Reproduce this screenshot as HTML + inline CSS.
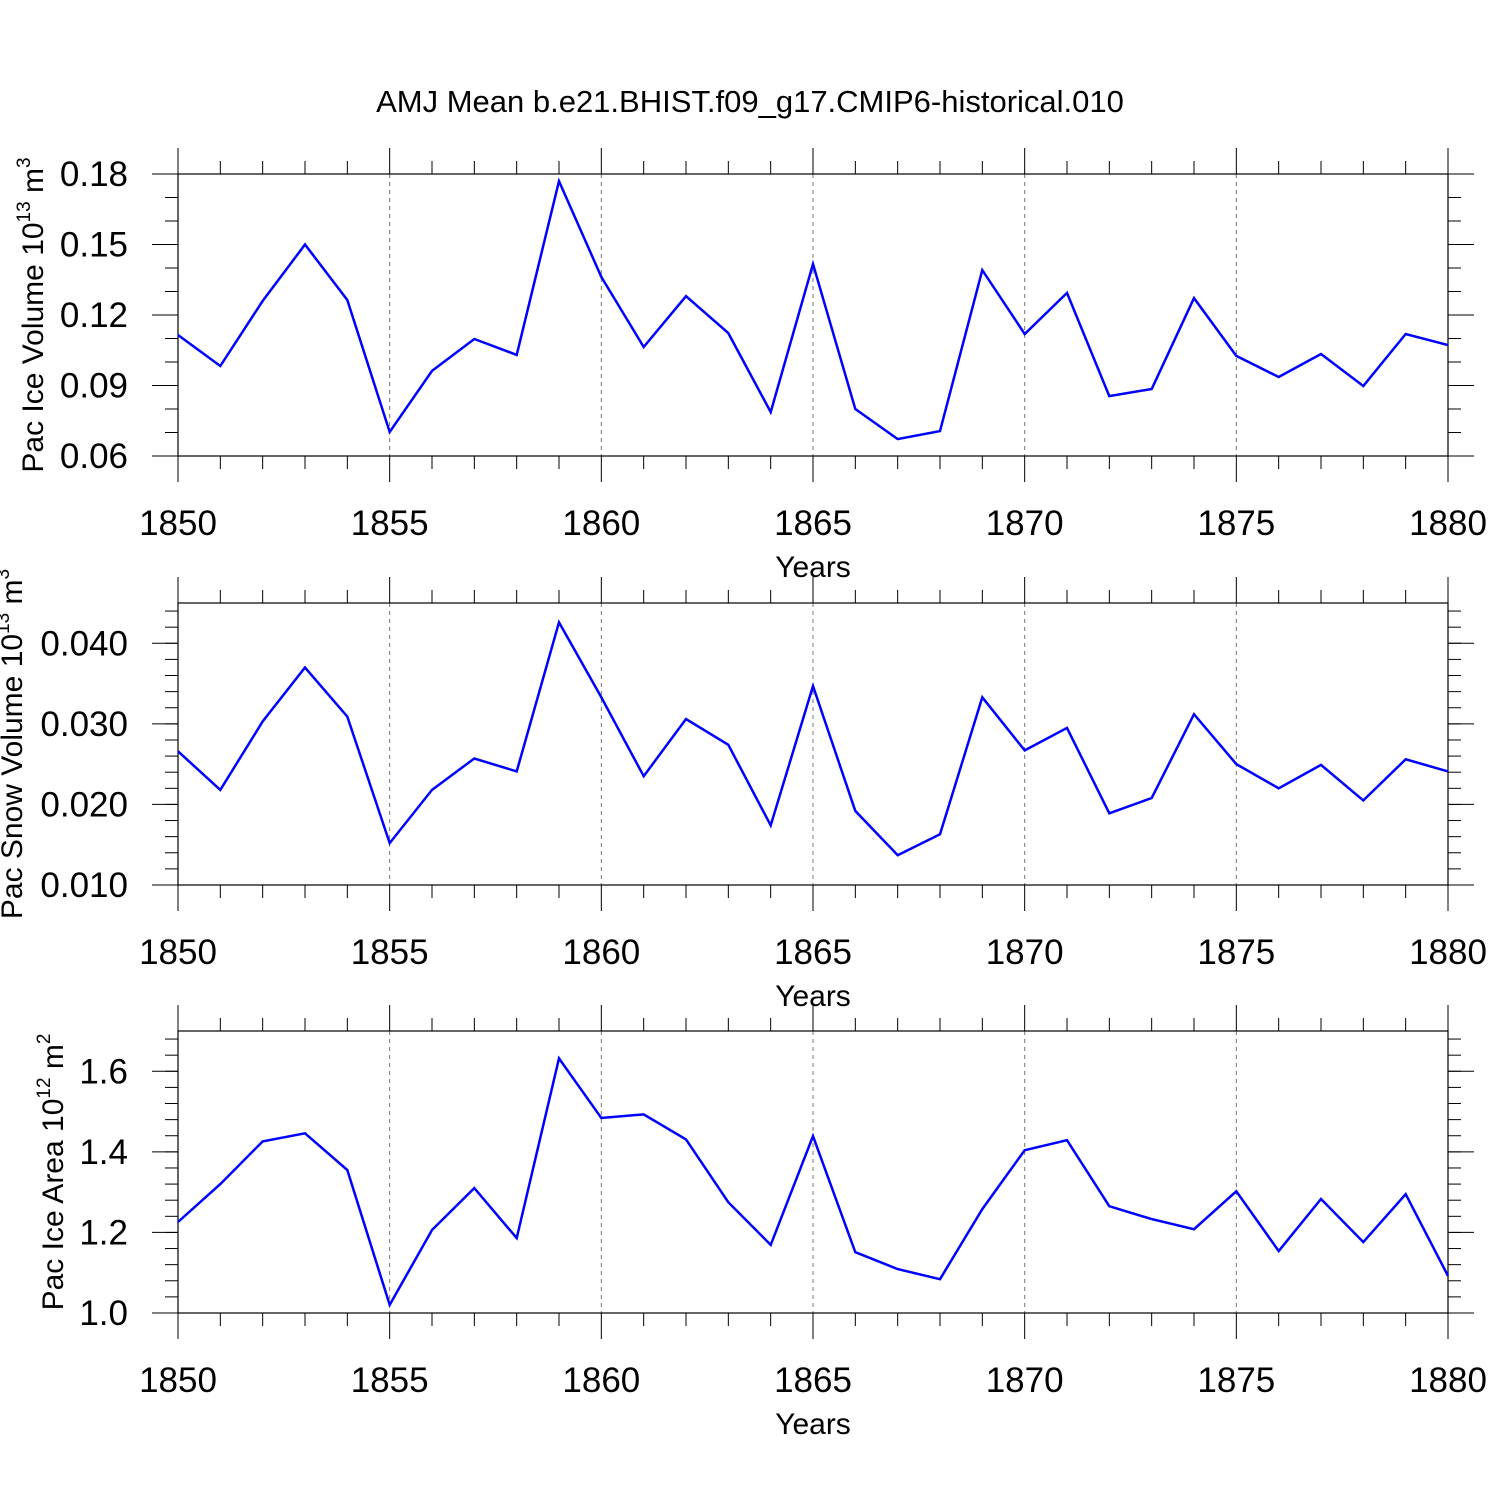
<!DOCTYPE html>
<html><head><meta charset="utf-8"><style>
body{margin:0;background:#fff}
svg{display:block;font-family:"Liberation Sans",Arial,sans-serif}
</style></head><body>
<svg id="chart" width="1500" height="1500" viewBox="0 0 1500 1500">
<text x="750" y="112" text-anchor="middle" font-size="31">AMJ Mean b.e21.BHIST.f09_g17.CMIP6-historical.010</text>
</svg>
<script>
const years=[];for(let y=1850;y<=1880;y++)years.push(y);
const iceVolume=[0.1115,0.0983,0.126,0.150,0.1264,0.0702,0.0962,0.1098,0.103,0.177,0.1362,0.1064,0.128,0.1123,0.0787,0.1417,0.080,0.0672,0.0706,0.1391,0.1119,0.1294,0.0855,0.0885,0.1272,0.1026,0.0936,0.1034,0.0898,0.1119,0.1072];
const snowVolume=[0.0266,0.0218,0.0303,0.0370,0.0309,0.0152,0.0218,0.0257,0.0241,0.0426,0.0333,0.0235,0.0306,0.0274,0.0174,0.0347,0.0192,0.0137,0.0163,0.0333,0.0267,0.0295,0.0189,0.0208,0.0312,0.0250,0.0220,0.0249,0.0205,0.0256,0.0241];
const iceArea=[1.226,1.320,1.426,1.446,1.355,1.020,1.206,1.310,1.186,1.632,1.484,1.493,1.431,1.275,1.169,1.439,1.151,1.109,1.084,1.258,1.404,1.429,1.265,1.233,1.208,1.302,1.154,1.283,1.176,1.295,1.092];
const xTicks=[1850,1855,1860,1865,1870,1875,1880];
const iceTicks=["0.06","0.09","0.12","0.15","0.18"];
const snowTicks=["0.010","0.020","0.030","0.040"];
const areaTicks=["1.0","1.2","1.4","1.6"];

const NS="http://www.w3.org/2000/svg";
const svg=document.getElementById('chart');
function el(t,a,p){const e=document.createElementNS(NS,t);for(const k in a)e.setAttribute(k,a[k]);(p||svg).appendChild(e);return e;}
const X0=178,X1=1448;
const xs=v=>X0+(v-1850)*(X1-X0)/30;

function panel(top,bottom,ymin,ymax,ticks,minorStep,data,name,base,exp,unit,uexp,tx){
  const g=el('g',{});
  
  
  const ys=v=>bottom-(v-ymin)*(bottom-top)/(ymax-ymin);
  xTicks.slice(1,-1).forEach(t=>{const l=el('line',{x1:xs(t),x2:xs(t),y1:top,y2:bottom,stroke:'#777','stroke-width':1,'stroke-dasharray':'4,4'},g);
    });
  const fr=el('rect',{x:X0,y:top,width:X1-X0,height:bottom-top,fill:'none',stroke:'#000','stroke-width':1.2},g);
  
  years.forEach(y=>{const L=(y%5===0)?26:13;
    el('line',{x1:xs(y),x2:xs(y),y1:bottom,y2:bottom+L,stroke:'#000','stroke-width':1},g);
    el('line',{x1:xs(y),x2:xs(y),y1:top,y2:top-L,stroke:'#000','stroke-width':1},g);});
  xTicks.forEach(t=>{const tx2=el('text',{x:xs(t),y:bottom+79,'text-anchor':'middle','font-size':35},g);tx2.textContent=t;
    });
  const xl=el('text',{x:813,y:bottom+121,'text-anchor':'middle','font-size':30},g);xl.textContent='Years';
  
  for(let v=ymin;v<=ymax+1e-9;v+=minorStep){const y=ys(v);
    el('line',{x1:X0-13,x2:X0,y1:y,y2:y,stroke:'#000','stroke-width':1},g);
    el('line',{x1:X1,x2:X1+13,y1:y,y2:y,stroke:'#000','stroke-width':1},g);}
  ticks.forEach(t=>{const y=ys(parseFloat(t));
    el('line',{x1:X0-26,x2:X0,y1:y,y2:y,stroke:'#000','stroke-width':1},g);
    el('line',{x1:X1,x2:X1+26,y1:y,y2:y,stroke:'#000','stroke-width':1},g);
    const tt=el('text',{x:128,y:y+12,'text-anchor':'end','font-size':35},g);tt.textContent=t;
    });
  const cy=(top+bottom)/2;
  const yt=el('text',{x:0,y:0,'text-anchor':'middle','font-size':30,transform:`translate(${tx},${cy}) rotate(-90)`},g);
  
  const a=el('tspan',{},yt);a.textContent=base;
  const b=el('tspan',{'font-size':19,dy:-13},yt);b.textContent=exp;
  const c=el('tspan',{dy:13},yt);c.textContent=unit;
  const d2=el('tspan',{'font-size':19,dy:-13},yt);d2.textContent=uexp;
  const d=data.map((v,i)=>(i?'L':'M')+xs(years[i]).toFixed(1)+','+ys(v).toFixed(1)).join('');
  const pth=el('path',{d:d,fill:'none',stroke:'#0000ff','stroke-width':2.5},g);
  
}
panel(174,456,0.06,0.18,iceTicks,0.01,iceVolume,'ice-volume','Pac Ice Volume 10','13',' m','3',43);
panel(603,885,0.01,0.045,snowTicks,0.002,snowVolume,'snow-volume','Pac Snow Volume 10','13',' m','3',22);
panel(1031,1313,1.0,1.7,areaTicks,0.04,iceArea,'ice-area','Pac Ice Area 10','12',' m','2',63);
</script>
</body></html>
